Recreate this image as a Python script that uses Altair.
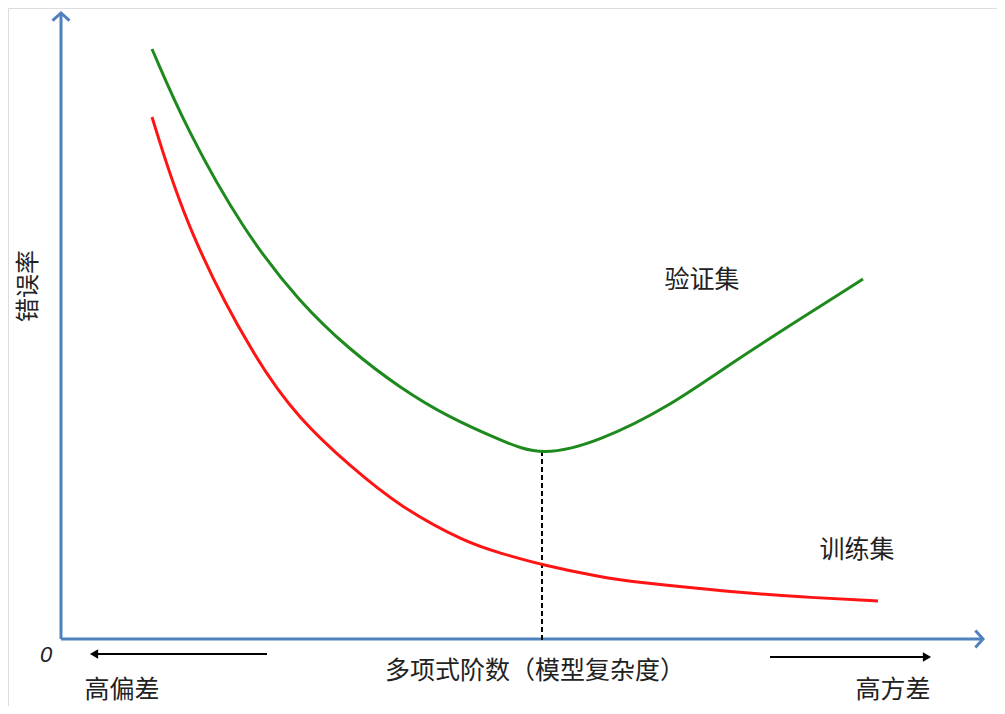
import altair as alt
import pandas as pd

# Curve readings (x: model complexity units, y: error units; origin at axes corner)
val_x = [91, 126, 182, 239, 289, 339, 389, 439, 481, 539, 606, 672, 739, 802]
val_y = [590, 509, 409, 336, 289, 251, 221, 199, 182, 198, 231, 277, 320, 360]
train_x = [91, 126, 194, 239, 289, 339, 406, 439, 481, 539, 572, 672, 739, 817]
train_y = [522, 409, 279, 219, 173, 132, 96, 86, 74, 62, 57, 47, 42, 38]
best_x = 481
best_y = 187
x_axis_end = 922
y_axis_end = 626

labels_text = ["验证集", "训练集", "多项式阶数（模型复杂度）", "高偏差", "高方差"]
labels_x = [641, 796, 474, 61, 832]
labels_y = [359, 89, -32, -51, -51]

XD = [-53, 936]
YD = [-67, 631]
xs = alt.Scale(domain=XD, nice=False, zero=False)
ys = alt.Scale(domain=YD, nice=False, zero=False)
FONT = "Noto Sans CJK SC"
BLUE = "#4f81bd"

def X(f="x"):
    return alt.X(f"{f}:Q", scale=xs, axis=None)

def Y(f="y"):
    return alt.Y(f"{f}:Q", scale=ys, axis=None)

val_df = pd.DataFrame({"x": val_x, "y": val_y})
train_df = pd.DataFrame({"x": train_x, "y": train_y})

val_line = alt.Chart(val_df).mark_line(color="#1e8a1e", strokeWidth=3, interpolate="basis").encode(x=X(), y=Y())
train_line = alt.Chart(train_df).mark_line(color="#ff1414", strokeWidth=3, interpolate="basis").encode(x=X(), y=Y())

dash = alt.Chart(pd.DataFrame({"x": [best_x], "y": [-1], "y2": [best_y]})).mark_rule(
    color="black", strokeWidth=2, strokeDash=[5, 3]).encode(x=X(), y=Y(), y2="y2:Q")

axes_df = pd.DataFrame({"x": [0, 0], "y": [0, 0], "x2": [x_axis_end, 0], "y2": [0, y_axis_end]})
axes = alt.Chart(axes_df).mark_rule(color=BLUE, strokeWidth=3).encode(x=X(), y=Y(), x2="x2:Q", y2="y2:Q")

yhead = alt.Chart(pd.DataFrame({"x": [0], "y": [y_axis_end]})).mark_point(
    shape="M -1 0.9 L 0 0 L 1 0.9", filled=False, color=BLUE, strokeWidth=3, size=289, opacity=1
).encode(x=X(), y=Y())
xhead = alt.Chart(pd.DataFrame({"x": [x_axis_end], "y": [0]})).mark_point(
    shape="M -0.9 -1 L 0 0 L -0.9 1", filled=False, color=BLUE, strokeWidth=3, size=289, opacity=1
).encode(x=X(), y=Y())

# bias / variance arrows
arr_df = pd.DataFrame({"x": [34, 709], "x2": [206, 864], "y": [-15, -18]})
arrows = alt.Chart(arr_df).mark_rule(color="black", strokeWidth=2).encode(x=X(), x2="x2:Q", y=Y())
lhead = alt.Chart(pd.DataFrame({"x": [33], "y": [-15]})).mark_point(
    shape="triangle-left", filled=True, color="black", size=90, opacity=1).encode(x=X(), y=Y())
rhead = alt.Chart(pd.DataFrame({"x": [866], "y": [-18]})).mark_point(
    shape="triangle-right", filled=True, color="black", size=90, opacity=1).encode(x=X(), y=Y())

lab_df = pd.DataFrame({"x": labels_x, "y": labels_y, "t": labels_text})
labels = alt.Chart(lab_df).mark_text(font=FONT, fontSize=25, color="#222222", baseline="middle", align="center").encode(
    x=X(), y=Y(), text="t:N")

ylab = alt.Chart(pd.DataFrame({"x": [-32], "y": [353], "t": ["错误率"]})).mark_text(
    font=FONT, fontSize=24, color="#222222", angle=270, baseline="middle", align="center").encode(x=X(), y=Y(), text="t:N")

zero = alt.Chart(pd.DataFrame({"x": [-15], "y": [-16], "t": ["0"]})).mark_text(
    font="Liberation Sans", fontSize=22, fontStyle="italic", color="#222222", baseline="middle", align="center").encode(
    x=X(), y=Y(), text="t:N")

chart = alt.layer(axes, yhead, xhead, dash, val_line, train_line, arrows, lhead, rhead, labels, ylab, zero).properties(
    width=989, height=698, autosize=alt.AutoSizeParams(type="none"), padding=0
).configure_view(strokeWidth=0, stroke=None).configure(background="white")

chart.save("out.html", embed_options={"renderer": "svg", "actions": False})
